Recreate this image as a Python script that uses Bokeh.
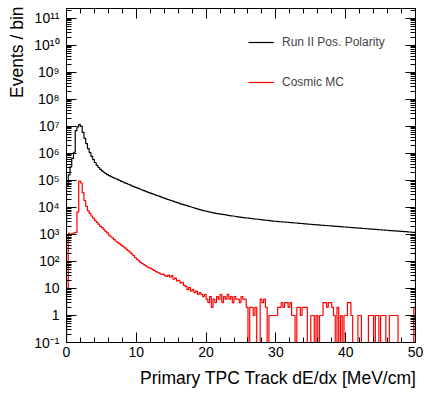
import numpy as np
from bokeh.plotting import figure
from bokeh.models import (Range1d, LinearAxis, LogAxis, FixedTicker, Legend,
                          LegendItem, CustomJSTickFormatter, Title)
from bokeh.embed import file_html
from bokeh.resources import INLINE

# ---------------- data ----------------
X_MIN, X_MAX, N_BINS = 0.0, 50.0, 200   # 0.25 MeV/cm bins

series_labels = ["Run II Pos. Polarity", "Cosmic MC"]
x_title = "Primary TPC Track dE/dx [MeV/cm]"
y_title = "Events / bin"

black_counts = [
    6.0e4, 1.6e5, 3.2e5, 6.5e5, 1.1e6, 7.0e6, 9.5e6, 1.15e7, 1.0e7, 6.0e6,
    3.6e6, 2.3e6, 1.5e6, 1.07e6, 7.8e5, 5.9e5, 4.6e5, 3.6e5, 3.0e5, 2.57e5,
    2.24e5, 2.0e5, 1.8e5, 1.64e5, 1.51e5, 1.4e5, 1.3e5, 1.22e5, 1.15e5, 1.07e5,
    9.9e4, 9.2e4, 8.7e4, 8.1e4, 7.7e4, 7.2e4, 6.8e4, 6.3e4, 5.9e4, 5.55e4,
    5.25e4, 4.95e4, 4.7e4, 4.4e4, 4.15e4, 3.95e4, 3.7e4, 3.5e4, 3.3e4, 3.15e4,
    3.0e4, 2.8e4, 2.7e4, 2.55e4, 2.4e4, 2.26e4, 2.16e4, 2.04e4, 1.95e4, 1.84e4,
    1.76e4, 1.66e4, 1.58e4, 1.5e4, 1.43e4, 1.36e4, 1.3e4, 1.245e4, 1.19e4, 1.135e4,
    1.085e4, 1.035e4, 9.9e3, 9.45e3, 9.05e3, 8.65e3, 8.3e3, 7.95e3, 7.65e3, 7.35e3,
    7.1e3, 6.85e3, 6.65e3, 6.45e3, 6.25e3, 6.05e3, 5.9e3, 5.75e3, 5.6e3, 5.5e3,
    5.4e3, 5.25e3, 5.1e3, 5.0e3, 4.9e3, 4.8e3, 4.7e3, 4.57e3, 4.47e3, 4.37e3,
    4.27e3, 4.19e3, 4.12e3, 4.05e3, 3.98e3, 3.91e3, 3.85e3, 3.78e3, 3.72e3, 3.65e3,
    3.59e3, 3.52e3, 3.47e3, 3.4e3, 3.35e3, 3.29e3, 3.24e3, 3.18e3, 3.13e3, 3.07e3,
    3.02e3, 2.99e3, 2.95e3, 2.92e3, 2.88e3, 2.85e3, 2.82e3, 2.79e3, 2.75e3, 2.72e3,
    2.68e3, 2.65e3, 2.61e3, 2.58e3, 2.54e3, 2.51e3, 2.47e3, 2.44e3, 2.41e3, 2.38e3,
    2.34e3, 2.32e3, 2.29e3, 2.26e3, 2.24e3, 2.21e3, 2.19e3, 2.16e3, 2.14e3, 2.11e3,
    2.09e3, 2.07e3, 2.04e3, 2.02e3, 2.0e3, 1.97e3, 1.95e3, 1.93e3, 1.91e3, 1.88e3,
    1.86e3, 1.84e3, 1.82e3, 1.8e3, 1.78e3, 1.76e3, 1.74e3, 1.72e3, 1.7e3, 1.68e3,
    1.66e3, 1.64e3, 1.62e3, 1.6e3, 1.58e3, 1.56e3, 1.55e3, 1.53e3, 1.51e3, 1.49e3,
    1.48e3, 1.46e3, 1.44e3, 1.43e3, 1.41e3, 1.39e3, 1.38e3, 1.36e3, 1.35e3, 1.33e3,
    1.32e3, 1.3e3, 1.29e3, 1.27e3, 1.26e3, 1.24e3, 1.23e3, 1.21e3, 1.2e3, 1.19e3,
]

red_counts = [
    10, 1100, 950, 1050, 1150, 1200, 6800, 9.5e4, 8.0e4, 3.5e4,
    1.8e4, 1.1e4, 7.5e3, 6.0e3, 4.8e3, 4.0e3, 3.3e3, 2.8e3, 2.4e3, 2.0e3,
    1800, 1550, 1300, 1150, 950, 820, 740, 640, 560, 500,
    450, 400, 360, 320, 280, 250, 220, 190, 165, 140,
    120, 105, 92, 84, 76, 70, 62, 58, 55, 50,
    46, 42, 39, 36, 33, 34, 30, 28, 31, 26,
    30, 22, 24, 19, 20, 16, 17, 13, 12, 9,
    11, 8, 9, 7, 8, 6, 7, 6, 5, 6,
    4, 3, 5, 2, 4, 3, 5, 4, 6, 3,
    5, 4, 6, 4, 5, 3, 5, 4, 4, 3,
    5, 4, 4, 2, 0, 2, 2, 1, 2, 0,
    0, 4, 3, 4, 2, 0, 1, 1, 1, 1,
    1, 2, 2, 3, 2, 3, 3, 2, 3, 1,
    1, 0, 2, 2, 1, 2, 2, 2, 0, 0,
    1, 1, 0, 1, 0, 1, 1, 3, 3, 2,
    3, 3, 2, 1, 0, 2, 0, 1, 0, 1,
    1, 3, 3, 1, 0, 0, 0, 1, 1, 0,
    0, 0, 0, 1, 1, 1, 0, 1, 1, 0,
    1, 1, 1, 0, 0, 1, 1, 1, 1, 1,
    0, 0, 0, 0, 0, 0, 0, 0, 0, 2,
]

x_major_ticks = [0, 10, 20, 30, 40, 50]
x_minor_ticks = [2, 4, 6, 8, 12, 14, 16, 18, 22, 24, 26, 28,
                 32, 34, 36, 38, 42, 44, 46, 48]
y_major_ticks = [1e-1, 1.0, 1e1, 1e2, 1e3, 1e4, 1e5, 1e6, 1e7, 1e8, 1e9, 1e10, 1e11]
y_major_labels = ["10\u207b\u00b9", "1", "10", "10\u00b2", "10\u00b3", "10\u2074",
                  "10\u2075", "10\u2076", "10\u2077", "10\u2078", "10\u2079",
                  "10\u00b9\u2070", "10\u00b9\u00b9"]
y_minor_ticks = [m * 10.0 ** k for k in range(-1, 12) for m in range(2, 10)]

# ---------------- drawing ----------------
FONT = "Liberation Sans"
FLOOR = 0.03  # empty bins drop below the visible axis range

edges = np.linspace(X_MIN, X_MAX, N_BINS + 1)


def step_xy(counts):
    c = np.asarray(counts, dtype=float)
    c = np.where(c > 0, c, FLOOR)
    xs = np.concatenate([[edges[0]], np.repeat(edges, 2)[1:-1], [edges[-1]]])
    ys = np.concatenate([[FLOOR], np.repeat(c, 2), [FLOOR]])
    return xs, ys


p = figure(width=426, height=393, x_range=Range1d(X_MIN, X_MAX),
           y_range=Range1d(0.1, 2.3e11), y_axis_type="log",
           output_backend="svg", toolbar_location=None,
           min_border_left=64, min_border_right=11,
           min_border_top=8, min_border_bottom=51)
p.xgrid.visible = False
p.ygrid.visible = False
p.background_fill_color = "white"
p.border_fill_color = "white"
p.outline_line_color = "black"

bx, by = step_xy(black_counts)
rx, ry = step_xy(red_counts)
r_black = p.line(bx, by, line_color="black", line_width=1.2)
r_red = p.line(rx, ry, line_color="#ff0000", line_width=1.2)


def style_axis(ax):
    ax.major_tick_in = 10
    ax.major_tick_out = 0
    ax.minor_tick_in = 5
    ax.minor_tick_out = 0
    ax.axis_line_color = "black"
    ax.major_tick_line_color = "black"
    ax.minor_tick_line_color = "black"
    ax.major_label_text_font = FONT
    ax.major_label_text_font_size = "14px"
    ax.major_label_text_color = "black"


xa = p.xaxis[0]
style_axis(xa)
xa.ticker = FixedTicker(ticks=x_major_ticks, minor_ticks=x_minor_ticks)
xa.major_label_standoff = 4

ya = p.yaxis[0]
style_axis(ya)
ya.ticker = FixedTicker(ticks=y_major_ticks, minor_ticks=y_minor_ticks)
ya.major_label_overrides = {v: s for v, s in zip(y_major_ticks, y_major_labels)}
ya.major_label_standoff = 7

blank = CustomJSTickFormatter(code="return ''")
top = LinearAxis(ticker=FixedTicker(ticks=x_major_ticks, minor_ticks=x_minor_ticks),
                 formatter=blank, major_label_standoff=0)
style_axis(top)
top.major_label_text_font_size = "1px"
right = LogAxis(ticker=FixedTicker(ticks=y_major_ticks, minor_ticks=y_minor_ticks),
                formatter=blank, major_label_standoff=0)
style_axis(right)
right.major_label_text_font_size = "1px"
p.add_layout(top, "above")
p.add_layout(right, "right")

# axis titles, right/top aligned as in ROOT
p.add_layout(Title(text=x_title, align="right", text_font=FONT,
                   text_font_size="17.5px", text_font_style="normal",
                   text_color="black", standoff=12, offset=-1), "below")
p.add_layout(Title(text=y_title, align="right", text_font=FONT,
                   text_font_size="17.5px", text_font_style="normal",
                   text_color="black", standoff=9, offset=-2), "left")

legend = Legend(items=[LegendItem(label=series_labels[0], renderers=[r_black]),
                       LegendItem(label=series_labels[1], renderers=[r_red])],
                location=(182, 250), orientation="vertical", spacing=20,
                padding=0, margin=0, glyph_width=26, glyph_height=20,
                label_height=20, label_standoff=8, label_text_font=FONT,
                label_text_font_size="12px", border_line_color=None,
                background_fill_alpha=0)
p.add_layout(legend)

open("out.html", "w").write(file_html(p, INLINE))
